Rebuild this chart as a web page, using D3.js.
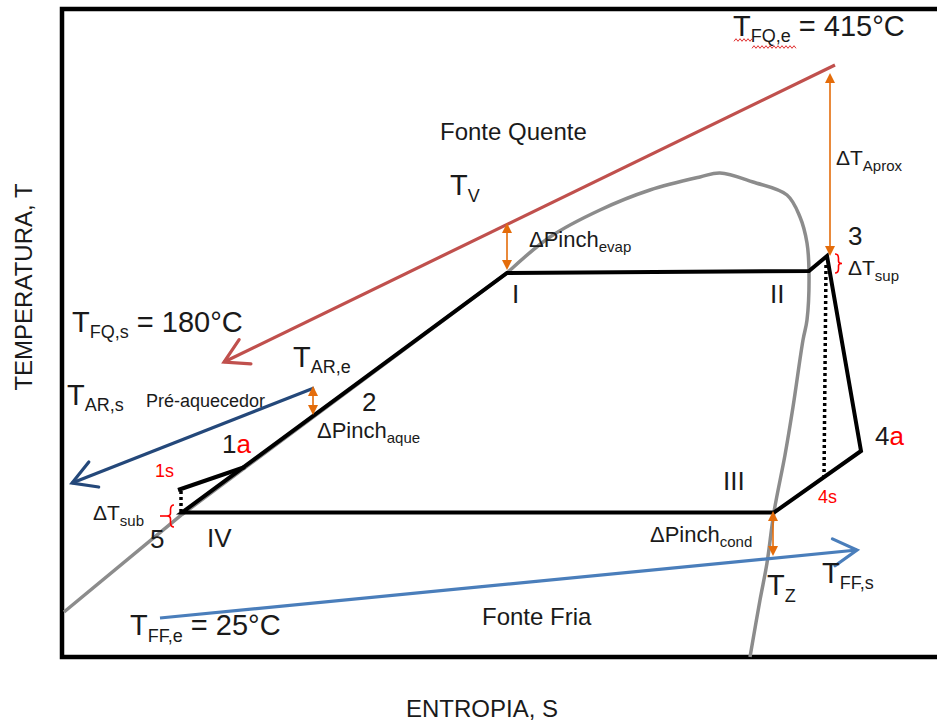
<!DOCTYPE html>
<html><head><meta charset="utf-8">
<script src="https://cdn.jsdelivr.net/npm/d3@7"></script>
<style>
body{margin:0;background:#fff}
svg{display:block}
text{font-family:"Liberation Sans",Arial,Helvetica,sans-serif}
</style>
</head><body>
<svg id="chart" width="937" height="723"></svg>
<script>
// Diagrama T-s esquemático do ciclo (unidades arbitrárias de entropia e temperatura)

// Ciclo principal: IV -> I -> II -> 3 -> 4a -> III(4s) -> IV
const cycleS = [12.0, 44.5, 74.7, 76.5, 79.9, 71.2];
const cycleT = [14.45, 38.4, 38.6, 40.1, 20.6, 14.45];

// Ramo do pré-aquecedor: 1s -> 1a (sobre a linha 5-I)
const preS = [11.6, 18.3];
const preT = [16.7, 19.0];

// Linhas isentrópicas (tracejadas): 5 -> 1s e 3 -> 4s
const isoSubS = [11.9, 11.9];
const isoSubT = [14.5, 16.6];
const isoExpS = [76.4, 76.2];
const isoExpT = [39.2, 18.0];

// Curva de saturação: ramo de líquido e domo
const satLiqS = [0.2, 12.0, 44.5];
const satLiqT = [4.5, 14.25, 38.4];
const satDomeS = [44.5, 48.8, 53.8, 58.8, 63.8, 65.8, 69.1, 72.5, 73.8, 74.5, 74.7, 74.5, 74.1, 73.1, 72.3, 71.2, 70.5, 69.8, 68.8];
const satDomeT = [38.4, 42.0, 44.7, 46.7, 48.0, 48.4, 47.5, 46.2, 44.0, 41.4, 38.5, 33.7, 31.7, 25.0, 20.2, 14.5, 9.4, 5.7, 0.0];

// Fontes: quente (415 -> 180 °C), ar do pré-aquecedor, fria (25 °C ->)
const hotS = [77.3, 16.2];
const hotT = [59.2, 29.5];
const airS = [25.2, 1.0];
const airT = [26.9, 17.4];
const coldS = [9.8, 79.5];
const coldT = [3.9, 10.7];

// Diferenças de temperatura (setas duplas): [s, T início, T fim]
const deltaNames = ["Aprox", "evap", "aque", "cond"];
const deltaS = [76.8, 44.5, 25.1, 71.1];
const deltaTop = [58.4, 43.4, 27.1, 14.6];
const deltaBot = [40.1, 38.7, 24.2, 10.1];

const x = d3.scaleLinear().domain([0, 87.5]).range([62, 937]);
const y = d3.scaleLinear().domain([0, 64.8]).range([657, 9]);

const svg = d3.select("#chart");
const g = svg.append("g");
const line = d3.line().x(d => x(d[0])).y(d => y(d[1]));
const zip = (a, b) => a.map((v, i) => [v, b[i]]);

const INK = "#1a1a1a";

// moldura
g.append("rect").attr("x", x(0)).attr("y", y(64.8)).attr("width", 880).attr("height", y(0) - y(64.8))
  .attr("fill", "none").attr("stroke", "#000").attr("stroke-width", 4.5);

// curva de saturação
g.append("path").attr("d", line(zip(satLiqS, satLiqT)))
  .attr("fill", "none").attr("stroke", "#8c8c8c").attr("stroke-width", 3.5);
g.append("path").attr("d", line.curve(d3.curveCatmullRom.alpha(0.5))(zip(satDomeS, satDomeT)))
  .attr("fill", "none").attr("stroke", "#8c8c8c").attr("stroke-width", 3.5);
line.curve(d3.curveLinear);

// seta aberta (chevron) no fim de uma linha
function chevron(p0, p1, color, len, ang) {
  const dx = x(p1[0]) - x(p0[0]), dy = y(p1[1]) - y(p0[1]);
  const a = Math.atan2(dy, dx);
  const tx = x(p1[0]), ty = y(p1[1]);
  const a1 = a + Math.PI - ang, a2 = a + Math.PI + ang;
  g.append("path")
    .attr("d", `M${tx + len * Math.cos(a1)},${ty + len * Math.sin(a1)}L${tx},${ty}L${tx + len * Math.cos(a2)},${ty + len * Math.sin(a2)}`)
    .attr("fill", "none").attr("stroke", color).attr("stroke-width", 3.2)
    .attr("stroke-linecap", "round").attr("stroke-linejoin", "miter");
}

function arrowLine(sArr, tArr, color) {
  const pts = zip(sArr, tArr);
  g.append("path").attr("d", line(pts)).attr("fill", "none").attr("stroke", color).attr("stroke-width", 3.2);
  chevron(pts[0], pts[1], color, 27, Math.PI / 6);
}
arrowLine(hotS, hotT, "#c0504d");
arrowLine(airS, airT, "#24487a");
arrowLine(coldS, coldT, "#4a7ebb");

// ciclo
g.append("path").attr("d", line(zip(cycleS, cycleT)) + "Z")
  .attr("fill", "none").attr("stroke", "#000").attr("stroke-width", 4).attr("stroke-linejoin", "miter");
g.append("path").attr("d", line(zip(preS, preT)))
  .attr("fill", "none").attr("stroke", "#000").attr("stroke-width", 4);
[[isoSubS, isoSubT], [isoExpS, isoExpT]].forEach(([s, t]) => {
  g.append("path").attr("d", line(zip(s, t)))
    .attr("fill", "none").attr("stroke", "#000").attr("stroke-width", 3.5).attr("stroke-dasharray", "3,3");
});

// setas duplas (laranja)
const ORANGE = "#e46c0a";
deltaS.forEach((s, i) => {
  const xs = x(s), y0 = y(deltaTop[i]), y1 = y(deltaBot[i]);
  const hl = 10, hw = 5;
  g.append("line").attr("x1", xs).attr("x2", xs).attr("y1", y0 + hl - 1).attr("y2", y1 - hl + 1)
    .attr("stroke", ORANGE).attr("stroke-width", 1.6);
  g.append("path").attr("d", `M${xs},${y0}L${xs - hw},${y0 + hl}L${xs + hw},${y0 + hl}Z`).attr("fill", ORANGE);
  g.append("path").attr("d", `M${xs},${y1}L${xs - hw},${y1 - hl}L${xs + hw},${y1 - hl}Z`).attr("fill", ORANGE);
});

// chaves vermelhas (ΔT_sup e ΔT_sub)
function brace(xp, y0, y1, w) {
  const h = y1 - y0, ym = (y0 + y1) / 2, xm = xp + w * 0.5;
  return `M${xp},${y0}Q${xm},${y0} ${xm},${y0 + h * 0.22}L${xm},${ym - h * 0.12}Q${xm},${ym} ${xp + w},${ym}` +
         `Q${xm},${ym} ${xm},${ym + h * 0.12}L${xm},${y1 - h * 0.22}Q${xm},${y1} ${xp},${y1}`;
}
g.append("path").attr("d", brace(x(77.3), y(40.3), y(38.4), 7))
  .attr("fill", "none").attr("stroke", "#ff0000").attr("stroke-width", 1.6);
g.append("path").attr("d", brace(x(11.2), y(15.2), y(13.0), -7))
  .attr("fill", "none").attr("stroke", "#ff0000").attr("stroke-width", 1.6);
g.append("line").attr("x1", x(9.8)).attr("x2", x(10.5)).attr("y1", y(14.1)).attr("y2", y(14.1))
  .attr("stroke", "#ff0000").attr("stroke-width", 1.6);

// rótulos
function label(s, T, parts, opts = {}) {
  const t = g.append("text").attr("x", x(s)).attr("y", y(T));
  if (opts.anchor) t.attr("text-anchor", opts.anchor);
  let shift = 0;
  parts.forEach(p => {
    const ts = t.append("tspan").text(p.text).attr("font-size", p.size).attr("fill", p.color || INK);
    const off = p.sub || 0;
    if (off - shift) ts.attr("dy", off - shift);
    shift = off;
  });
  return t;
}
const BIG = 29, SUB = 18, DL = 22, DS = 15;

label(67.1, 62.1, [{text: "T", size: BIG}, {text: "FQ,e", size: SUB, sub: 6}, {text: " = 415°C", size: BIG}]);
label(1.0, 32.5, [{text: "T", size: BIG}, {text: "FQ,s", size: SUB, sub: 6}, {text: " = 180°C", size: BIG}]);
label(23.1, 29.0, [{text: "T", size: BIG}, {text: "AR,e", size: SUB, sub: 6}]);
label(0.5, 25.2, [{text: "T", size: BIG}, {text: "AR,s", size: SUB, sub: 6}]);
label(8.4, 25.0, [{text: "Pré-aquecedor", size: 18}]);
label(6.8, 2.2, [{text: "T", size: BIG}, {text: "FF,e", size: SUB, sub: 7}, {text: " = 25°C", size: BIG}]);
label(76.0, 7.4, [{text: "T", size: BIG}, {text: "FF,s", size: SUB, sub: 6}]);
label(70.5, 6.2, [{text: "T", size: BIG}, {text: "Z", size: SUB, sub: 7}]);
label(38.8, 46.2, [{text: "T", size: BIG}, {text: "V", size: SUB, sub: 7}]);
label(37.8, 51.7, [{text: "Fonte Quente", size: 24}]);
label(42.0, 3.2, [{text: "Fonte Fria", size: 24}]);

label(46.7, 41.0, [{text: "ΔPinch", size: DL}, {text: "evap", size: DS, sub: 5}]);
label(25.5, 21.9, [{text: "ΔPinch", size: DL}, {text: "aque", size: DS, sub: 5}]);
label(58.8, 11.5, [{text: "ΔPinch", size: DL}, {text: "cond", size: DS, sub: 5}]);
label(77.4, 49.2, [{text: "ΔT", size: 21}, {text: "Aprox", size: DS, sub: 6}]);
label(78.6, 38.2, [{text: "ΔT", size: 21}, {text: "sup", size: DS, sub: 6}]);
label(3.1, 13.7, [{text: "ΔT", size: 21}, {text: "sub", size: DS, sub: 6}]);

const NUM = 26;
label(78.6, 41.2, [{text: "3", size: NUM}]);
label(45.0, 35.4, [{text: "I", size: NUM}]);
label(70.8, 35.4, [{text: "II", size: NUM}]);
label(66.1, 16.7, [{text: "III", size: NUM}]);
label(14.5, 11.0, [{text: "IV", size: NUM}]);
label(30.0, 24.6, [{text: "2", size: NUM}]);
label(8.8, 10.9, [{text: "5", size: NUM}]);
label(16.0, 20.4, [{text: "1", size: NUM}, {text: "a", size: NUM, color: "#ff0000"}]);
label(81.3, 21.2, [{text: "4", size: NUM}, {text: "a", size: NUM, color: "#ff0000"}]);
label(9.3, 18.0, [{text: "1s", size: 18, color: "#ff0000"}]);
label(75.6, 15.4, [{text: "4s", size: 18, color: "#ff0000"}]);

// sublinhado ondulado vermelho sob "T" e "FQ,e"
function squiggle(x0, x1, yy) {
  const pts = [];
  for (let px = x0, k = 0; px <= x1; px += 2, k++) pts.push([px, yy + (k % 2 ? -1.3 : 1.3)]);
  g.append("path").attr("d", d3.line()(pts)).attr("fill", "none").attr("stroke", "#e03030").attr("stroke-width", 1);
}
squiggle(x(67.2), x(69.0), y(61.7));
squiggle(x(69.0), x(73.5), y(61.0));

// títulos dos eixos
svg.append("text").attr("x", 482).attr("y", 717).attr("text-anchor", "middle")
  .attr("font-size", 24).attr("fill", INK).text("ENTROPIA, S");
svg.append("text").attr("transform", "translate(32,287) rotate(-90)").attr("text-anchor", "middle")
  .attr("font-size", 24).attr("fill", INK).text("TEMPERATURA, T");
</script>
</body></html>
